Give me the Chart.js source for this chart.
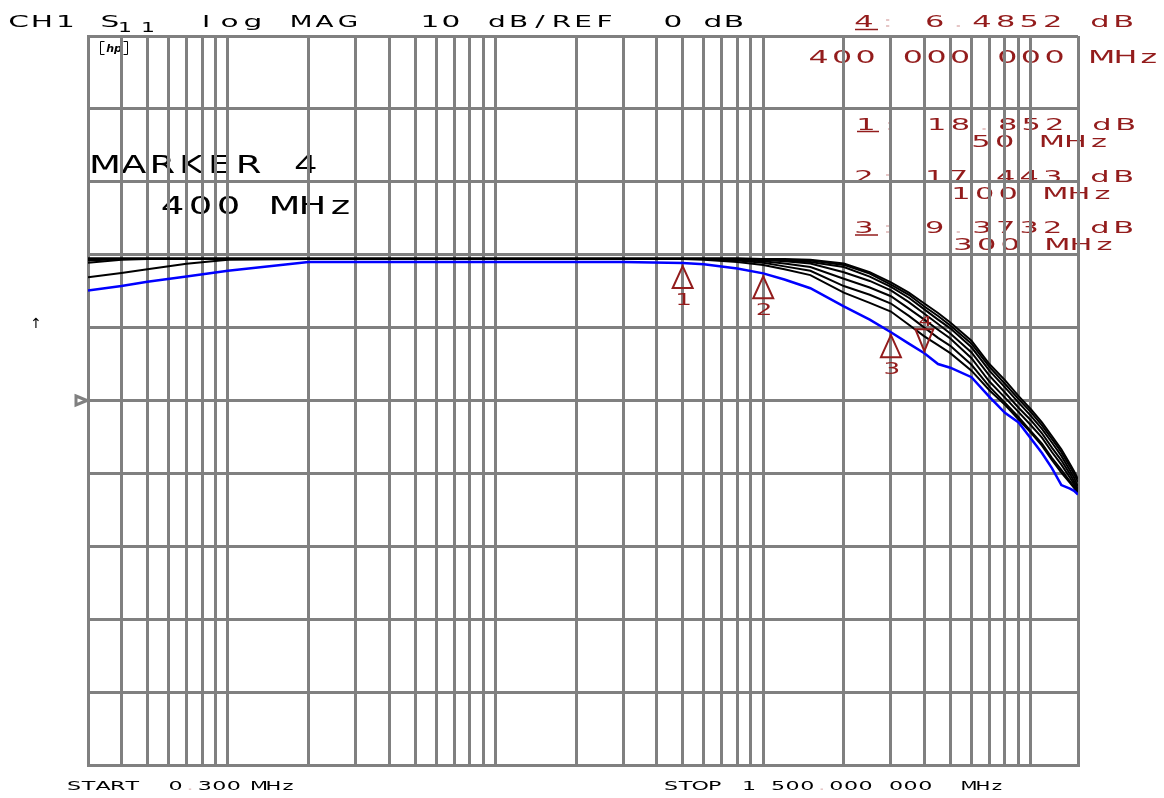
<!DOCTYPE html>
<html>
<head>
<meta charset="utf-8">
<title>CH1 S11 log MAG</title>
<script src="https://cdn.jsdelivr.net/npm/chart.js@4.4.1/dist/chart.umd.min.js"></script>
<style>
    html, body { margin: 0; padding: 0; background: #ffffff; }
    #canvasS11 { display: block; }
</style>
</head>
<body>
<canvas id="canvasS11" width="1164" height="798"></canvas>
<script>
"use strict";

// ============================================================
// DATI — frequenze in MHz, valori in dB
// ============================================================
const frequenze = [0.3, 0.4, 0.5, 0.7, 1, 2, 5, 10, 30, 50, 60, 80, 100, 120, 150, 200, 250,
    300, 350, 400, 450, 500, 600, 700, 800, 900, 1000, 1100, 1200, 1300, 1400, 1450, 1500];

// traccia blu (quella con i marker)
const tracciaBlu = [15.1, 15.7, 16.3, 17.0, 17.8, 19.0, 19.0, 19.0, 19.0, 18.85, 18.7, 18.1, 17.44, 16.6, 15.4, 12.9, 11.1,
    9.37, 7.8, 6.49, 5.0, 4.5, 3.2, 0.5, -1.7, -3.0, -5.2, -7.2, -9.3, -11.6, -12.1, -12.4, -12.9];

// tracce nere memorizzate
const traccia1 = [19.5, 19.5, 19.5, 19.5, 19.5, 19.5, 19.5, 19.5, 19.5, 19.5, 19.5, 19.5, 19.4, 19.4, 19.3, 18.8, 17.6,
    16.2, 14.8, 13.3, 12.0, 10.7, 8.2, 5.0, 2.8, 0.6, -1.2, -3.0, -4.9, -6.7, -8.7, -9.7, -10.8];
const traccia2 = [19.4, 19.4, 19.4, 19.4, 19.4, 19.4, 19.4, 19.4, 19.4, 19.4, 19.4, 19.4, 19.3, 19.3, 19.2, 18.6, 17.4,
    15.9, 14.5, 12.9, 11.6, 10.3, 7.8, 4.6, 2.3, 0.2, -1.6, -3.4, -5.3, -7.1, -9.1, -10.1, -11.2];
const traccia3 = [18.9, 19.3, 19.4, 19.4, 19.4, 19.4, 19.4, 19.4, 19.4, 19.4, 19.4, 19.4, 19.3, 19.2, 19.0, 18.3, 17.0,
    15.6, 14.1, 12.5, 11.1, 9.9, 7.3, 4.1, 1.8, -0.3, -2.1, -3.9, -5.8, -7.6, -9.6, -10.6, -11.8];
const traccia4 = [19.2, 19.4, 19.4, 19.4, 19.4, 19.4, 19.4, 19.4, 19.4, 19.4, 19.4, 19.4, 19.3, 19.1, 18.8, 17.6, 16.4,
    15.1, 13.5, 11.9, 10.5, 9.2, 6.6, 3.4, 1.1, -1.0, -2.7, -4.5, -6.5, -8.2, -10.1, -11.1, -12.2];
const traccia5 = [16.9, 17.5, 18.0, 18.75, 19.3, 19.4, 19.4, 19.4, 19.4, 19.4, 19.4, 19.3, 19.1, 18.8, 18.3, 16.7, 15.5,
    14.3, 12.6, 11.1, 9.7, 8.5, 5.8, 2.6, 0.4, -1.6, -3.4, -5.1, -7.1, -8.8, -10.6, -11.5, -12.5];
const traccia6 = [19.4, 19.4, 19.4, 19.4, 19.4, 19.4, 19.4, 19.4, 19.4, 19.4, 19.4, 19.2, 18.9, 18.4, 17.8, 15.7, 14.5,
    13.3, 11.6, 10.0, 8.6, 7.5, 4.9, 1.9, -0.3, -2.3, -4.2, -5.9, -7.9, -9.5, -11.1, -11.8, -12.6];
const traccia7 = [19.4, 19.4, 19.4, 19.4, 19.4, 19.4, 19.4, 19.4, 19.4, 19.4, 19.3, 19.0, 18.6, 18.0, 17.2, 14.8, 13.4,
    12.2, 10.4, 8.8, 7.6, 6.5, 4.1, 1.4, -0.6, -2.6, -4.4, -6.2, -8.2, -9.9, -11.3, -12.0, -12.8];

// marker sulla traccia blu
const markerFreq = [50, 100, 300, 400];
const markerDb   = [18.852, 17.443, 9.3732, 6.4852];
const markerNome = ["1", "2", "3", "4"];

// righe verticali della griglia logaritmica (MHz)
const grigliaFreq = [0.3, 0.4, 0.5, 0.6, 0.7, 0.8, 0.9, 1, 2, 3, 4, 5, 6, 7, 8, 9, 10, 20, 30, 40, 50, 60, 70, 80, 90,
    100, 200, 300, 400, 500, 600, 700, 800, 900, 1000, 1500];

// scala verticale: REF 0 dB, 10 dB/div
const livelloRef = 0;
const dbMin = -50;
const dbMax = 50;
const dbDiv = 10;

const GRIGIO = "#808080";
const ROSSO  = "#931c1c";
const TENUE  = "#e6c6c6";

// ============================================================
// scrivi() — testo "da plotter": un carattere per cella
// ============================================================
function scrivi(ctx, testo, cx0, base, passo, alt, colore, sx) {
    let size = alt / 0.729;
    ctx.font = size + "px 'DejaVu Sans'";
    ctx.textAlign = "center";
    ctx.textBaseline = "alphabetic";
    for (let i = 0; i < testo.length; i++) {
        let ch = testo[i];
        if (ch === " ") continue;
        ctx.save();
        ctx.translate(cx0 + i * passo, base);
        ctx.scale(sx, 1);
        ctx.fillStyle = (ch === "." || ch === ":") ? TENUE : colore;
        ctx.fillText(ch, 0, 0);
        ctx.restore();
    }
}

function sottolinea(ctx, x1, x2, y) {
    ctx.save();
    ctx.strokeStyle = ROSSO;
    ctx.lineWidth = 1.5;
    ctx.beginPath();
    ctx.moveTo(x1, y);
    ctx.lineTo(x2, y);
    ctx.stroke();
    ctx.restore();
}

// ============================================================
// Plugin: testi (sotto la griglia) e marker (sopra le tracce)
// ============================================================
const pluginAnalizzatore = {
    id: "analizzatore",
    beforeDraw(chart) {
        let ctx = chart.ctx;
        ctx.save();
        ctx.fillStyle = "#ffffff";
        ctx.fillRect(0, 0, chart.width, chart.height);

        // --- intestazione ---
        scrivi(ctx, "CH1", 18.5, 27, 23.5, 12, "#000", 1.8);
        scrivi(ctx, "S", 110, 27, 23.5, 12, "#000", 1.8);
        scrivi(ctx, "1", 125, 32, 23.5, 10, "#000", 1.6);
        scrivi(ctx, "1", 148, 32, 23.5, 10, "#000", 1.6);
        scrivi(ctx, "log", 206, 27, 23.5, 12, "#000", 1.8);
        scrivi(ctx, "MAG", 301, 27, 23.5, 12, "#000", 1.6);
        scrivi(ctx, "10", 430, 27, 21, 12, "#000", 1.8);
        scrivi(ctx, "dB/REF", 497, 27, 21.5, 12, "#000", 1.7);
        scrivi(ctx, "0", 673, 27, 21, 12, "#000", 1.8);
        scrivi(ctx, "dB", 713, 27, 21, 12, "#000", 1.8);

        // --- valori dei marker (rosso) ---
        scrivi(ctx, "4: 6.4852 dB", 864, 27, 23.6, 12, ROSSO, 1.85);
        sottolinea(ctx, 855, 878, 29.5);
        scrivi(ctx, "400 000 000 MHz", 818.5, 63, 23.6, 12.5, ROSSO, 1.85);

        scrivi(ctx, "1: 18.852 dB", 866, 130, 23.6, 12, ROSSO, 1.85);
        sottolinea(ctx, 857, 879, 131.5);
        scrivi(ctx, "50 MHz", 981, 147, 23.6, 12, ROSSO, 1.85);

        scrivi(ctx, "2: 17.443 dB", 864, 182, 23.6, 12, ROSSO, 1.85);
        scrivi(ctx, "100 MHz", 961, 199, 23.6, 12, ROSSO, 1.85);

        scrivi(ctx, "3: 9.3732 dB", 864, 233, 23.6, 12, ROSSO, 1.85);
        sottolinea(ctx, 855, 878, 235);
        scrivi(ctx, "300 MHz", 963, 250, 23.6, 12, ROSSO, 1.85);

        // --- marker attivo ---
        scrivi(ctx, "MARKER 4", 105, 173, 28.7, 18, "#000", 1.5);
        scrivi(ctx, "400 MHz", 172.5, 214, 28, 18, "#000", 1.5);

        // --- start / stop ---
        scrivi(ctx, "START", 74, 789.5, 14.6, 9, "#000", 1.8);
        scrivi(ctx, "0.300", 175.5, 789.5, 14.6, 9, "#000", 1.8);
        scrivi(ctx, "MHz", 259, 789.5, 14.5, 9, "#000", 1.7);
        scrivi(ctx, "STOP", 671, 789.5, 14.6, 9, "#000", 1.8);
        scrivi(ctx, "1", 749, 789.5, 14.6, 9, "#000", 1.8);
        scrivi(ctx, "500.000", 778, 789.5, 14.6, 9, "#000", 1.8);
        scrivi(ctx, "000", 896, 789.5, 14.6, 9, "#000", 1.8);
        scrivi(ctx, "MHz", 969, 789.5, 14, 9, "#000", 1.6);

        // --- logo hp e freccia a sinistra ---
        ctx.strokeStyle = "#000";
        ctx.lineWidth = 1;
        ctx.beginPath();
        ctx.moveTo(104.5, 41.5);
        ctx.lineTo(100.5, 41.5);
        ctx.lineTo(100.5, 54.5);
        ctx.lineTo(104.5, 54.5);
        ctx.moveTo(123.5, 41.5);
        ctx.lineTo(127.5, 41.5);
        ctx.lineTo(127.5, 54.5);
        ctx.lineTo(123.5, 54.5);
        ctx.stroke();
        ctx.fillStyle = "#000";
        ctx.font = "italic bold 11px 'DejaVu Sans'";
        ctx.textAlign = "center";
        ctx.fillText("hp", 114, 52);
        ctx.font = "14px 'DejaVu Sans'";
        ctx.fillText("\u2191", 36, 328);
        ctx.restore();
    },
    afterDatasetsDraw(chart) {
        let ctx = chart.ctx;
        let sx = chart.scales.x;
        let sy = chart.scales.y;
        ctx.save();

        // triangolo del livello di riferimento
        let yRef = sy.getPixelForValue(livelloRef);
        let xL = chart.chartArea.left;
        ctx.strokeStyle = GRIGIO;
        ctx.lineWidth = 3;
        ctx.beginPath();
        ctx.moveTo(xL - 12, yRef - 4.5);
        ctx.lineTo(xL - 1, yRef);
        ctx.lineTo(xL - 12, yRef + 4.5);
        ctx.closePath();
        ctx.stroke();

        // marker
        ctx.strokeStyle = ROSSO;
        ctx.lineWidth = 2;
        for (let i = 0; i < markerFreq.length; i++) {
            let px = sx.getPixelForValue(markerFreq[i]);
            let py = sy.getPixelForValue(markerDb[i]);
            ctx.beginPath();
            if (i === markerFreq.length - 1) {
                // marker attivo: triangolo rovesciato, numero sopra
                ctx.moveTo(px, py - 2);
                ctx.lineTo(px - 9, py - 24);
                ctx.lineTo(px + 9, py - 24);
                ctx.closePath();
                ctx.stroke();
                scrivi(ctx, markerNome[i], px + 1, py - 27, 0, 10, ROSSO, 1.6);
            } else {
                ctx.moveTo(px, py + 3);
                ctx.lineTo(px - 10, py + 25);
                ctx.lineTo(px + 10, py + 25);
                ctx.closePath();
                ctx.stroke();
                scrivi(ctx, markerNome[i], px + 1, py + 42, 0, 12, ROSSO, 1.6);
            }
        }
        ctx.restore();
    }
};

// ============================================================
// creaGrafico()
// ============================================================
function creaGrafico() {
    let nere = [traccia1, traccia2, traccia3, traccia4, traccia5, traccia6, traccia7];
    let datasets = [{
        label: "S11",
        data: frequenze.map((f, i) => ({ x: f, y: tracciaBlu[i] })),
        borderColor: "#0000ff",
        borderWidth: 2.5,
        pointRadius: 0,
        tension: 0
    }];
    for (let k = 0; k < nere.length; k++) {
        datasets.push({
            label: "mem " + (k + 1),
            data: frequenze.map((f, i) => ({ x: f, y: nere[k][i] })),
            borderColor: "#000000",
            borderWidth: 2,
            pointRadius: 0,
            tension: 0
        });
    }

    let griglia = { color: GRIGIO, lineWidth: 3, drawTicks: false };
    let bordo = { display: true, color: GRIGIO, width: 3 };

    new Chart(document.getElementById("canvasS11"), {
        type: "line",
        data: { datasets: datasets },
        options: {
            responsive: false,
            animation: false,
            events: [],
            layout: { padding: { left: 88, right: 86, top: 36, bottom: 33 } },
            plugins: { legend: { display: false }, tooltip: { enabled: false } },
            scales: {
                x: {
                    type: "logarithmic",
                    min: frequenze[0],
                    max: frequenze[frequenze.length - 1],
                    ticks: { display: false },
                    grid: griglia,
                    border: bordo,
                    afterBuildTicks: function (scala) {
                        scala.ticks = grigliaFreq.map(v => ({ value: v }));
                    }
                },
                y: {
                    type: "linear",
                    min: dbMin,
                    max: dbMax,
                    ticks: { display: false, stepSize: dbDiv },
                    grid: griglia,
                    border: bordo
                }
            }
        },
        plugins: [pluginAnalizzatore]
    });
}

creaGrafico();
</script>
</body>
</html>
